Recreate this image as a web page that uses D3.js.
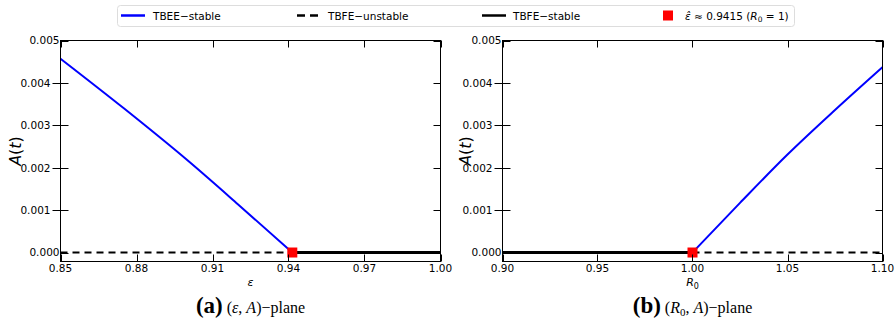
<!DOCTYPE html>
<html>
<head>
<meta charset="utf-8">
<script src="https://cdn.jsdelivr.net/npm/d3@7"></script>
<style>
  body { margin: 0; background: #fff; }
  svg { display: block; font-family: 'DejaVu Sans', sans-serif; }
</style>
</head>
<body>
<svg id="chart" width="896" height="320"></svg>
<script>
// data
const epsTicks = [0.85, 0.88, 0.91, 0.94, 0.97, 1.00]
const r0Ticks = [0.90, 0.95, 1.00, 1.05, 1.10]
const aTicks = [0, 0.001, 0.002, 0.003, 0.004, 0.005]

const epsCrit = 0.9415
const r0Crit = 1.0

// panel (a): A vs epsilon
const epsStableX = [0.85, 0.875, 0.90, 0.92, 0.9415]
const epsStableA = [0.00457, 0.00340, 0.00218, 0.00114, 0]
const epsUnstableX = [0.85, 0.9415]
const epsFreeStableX = [0.9415, 1.00]

// panel (b): A vs R0
const r0StableX = [1.0, 1.025, 1.05, 1.075, 1.10]
const r0StableA = [0, 0.00117, 0.00231, 0.00336, 0.00437]
const r0FreeStableX = [0.90, 1.0]
const r0UnstableX = [1.0, 1.10]

const svg = d3.select('#chart')

const panels = [
	{
		left: 60.5, right: 440.5, domain: [0.85, 1.00], ticks: epsTicks, fmt: d3.format('.2f'),
		stable: epsStableX.map((x, i) => [x, epsStableA[i]]),
		unstable: epsUnstableX.map(x => [x, 0]),
		freeStable: epsFreeStableX.map(x => [x, 0]),
		crit: epsCrit, xlabel: 'eps', letter: '(a)', caption: 'eps', yLabelX: 21
	},
	{
		left: 502.5, right: 882.5, domain: [0.90, 1.10], ticks: r0Ticks, fmt: d3.format('.2f'),
		stable: r0StableX.map((x, i) => [x, r0StableA[i]]),
		unstable: r0UnstableX.map(x => [x, 0]),
		freeStable: r0FreeStableX.map(x => [x, 0]),
		crit: r0Crit, xlabel: 'r0', letter: '(b)', caption: 'r0', yLabelX: 471
	}
]

const plotTop = 40.5
const plotBottom = 261.5

panels.forEach((p) => {
	const x = d3.scaleLinear().domain(p.domain).range([p.left, p.right])
	const y = d3.scaleLinear().domain([-0.000212, 0.005]).range([plotBottom, plotTop])
	const g = svg.append('g')
	const line = d3.line().x(d => x(d[0])).y(d => y(d[1])).curve(d3.curveMonotoneX)

	// data lines
	g.append('path').datum(p.unstable)
		.attr('d', line).attr('fill', 'none')
		.attr('stroke', '#000').attr('stroke-width', 2).attr('stroke-dasharray', '7,5')
	g.append('path').datum(p.freeStable)
		.attr('d', line).attr('fill', 'none')
		.attr('stroke', '#000').attr('stroke-width', 3)
	g.append('path').datum(p.stable)
		.attr('d', line).attr('fill', 'none')
		.attr('stroke', '#0000ff').attr('stroke-width', 2)
	g.append('rect')
		.attr('x', x(p.crit) - 5).attr('y', y(0) - 5)
		.attr('width', 10).attr('height', 10)
		.attr('fill', '#ff0000')

	// frame
	g.append('rect')
		.attr('x', p.left).attr('y', plotTop)
		.attr('width', p.right - p.left).attr('height', plotBottom - plotTop)
		.attr('fill', 'none').attr('stroke', '#000').attr('stroke-width', 1)

	// x ticks (inward, mirrored on top)
	p.ticks.forEach((t) => {
		const xx = Math.round(x(t)) + 0.5
		g.append('line').attr('x1', xx).attr('x2', xx).attr('y1', plotBottom).attr('y2', plotBottom - 7).attr('stroke', '#000')
		g.append('line').attr('x1', xx).attr('x2', xx).attr('y1', plotTop).attr('y2', plotTop + 7).attr('stroke', '#000')
		g.append('text')
			.attr('x', x(t)).attr('y', plotBottom + 10.5)
			.attr('text-anchor', 'middle')
			.attr('font-size', 10.5)
			.text(p.fmt(t))
	})

	// y ticks (in/out on left, inward on right)
	aTicks.forEach((t, i) => {
		const yy = Math.round(y(t)) + 0.5
		const edge = i === 0 || i === aTicks.length - 1
		g.append('line').attr('x1', p.left - (edge ? 0 : 8)).attr('x2', p.left + 8).attr('y1', yy).attr('y2', yy).attr('stroke', '#000')
		g.append('line').attr('x1', p.right).attr('x2', p.right - 7).attr('y1', yy).attr('y2', yy).attr('stroke', '#000')
		g.append('text')
			.attr('x', p.left - (edge ? 1 : 10)).attr('y', y(t) + 3.8)
			.attr('text-anchor', 'end')
			.attr('font-size', 10.5)
			.text(d3.format('.3f')(t))
	})

	// y label
	const yl = g.append('text')
		.attr('transform', `translate(${p.yLabelX},${(plotTop + plotBottom) / 2}) rotate(-90)`)
		.attr('text-anchor', 'middle')
		.attr('font-size', 16)
	yl.append('tspan').attr('font-style', 'italic').text('A')
	yl.append('tspan').text('(')
	yl.append('tspan').attr('font-style', 'italic').text('t')
	yl.append('tspan').text(')')

	// x label
	const xl = g.append('text')
		.attr('x', (p.left + p.right) / 2).attr('y', 285.5)
		.attr('text-anchor', 'middle')
		.attr('font-size', 11)
	if (p.xlabel === 'eps') {
		xl.append('tspan').attr('font-style', 'italic').text('ε')
	} else {
		xl.append('tspan').attr('font-style', 'italic').text('R')
		xl.append('tspan').attr('font-size', 8).attr('dy', 3).text('0')
	}

	// caption
	const cap = g.append('text')
		.attr('x', (p.left + p.right) / 2).attr('y', 313)
		.attr('text-anchor', 'middle')
		.attr('font-family', "'Liberation Serif', 'DejaVu Serif', serif")
	cap.append('tspan').attr('font-weight', 'bold').attr('font-size', 23).text(p.letter)
	if (p.caption === 'r0') {
		cap.append('tspan').attr('font-size', 16).text(' (')
		cap.append('tspan').attr('font-size', 16).attr('font-style', 'italic').text('R')
		cap.append('tspan').attr('font-size', 11).attr('dy', 3).text('0')
		cap.append('tspan').attr('font-size', 16).attr('dy', -3).text(', ')
		cap.append('tspan').attr('font-size', 16).attr('font-style', 'italic').text('A')
		cap.append('tspan').attr('font-size', 16).text(')−plane')
	} else {
		cap.append('tspan').attr('font-size', 16).text(' (')
		cap.append('tspan').attr('font-size', 16).attr('font-style', 'italic').text('ε')
		cap.append('tspan').attr('font-size', 16).text(', ')
		cap.append('tspan').attr('font-size', 16).attr('font-style', 'italic').text('A')
		cap.append('tspan').attr('font-size', 16).text(')−plane')
	}
})

// legend
const legend = svg.append('g')
legend.append('rect')
	.attr('x', 117.5).attr('y', 5.5).attr('width', 677).attr('height', 21).attr('rx', 3)
	.attr('fill', '#fff').attr('stroke', '#ddd')

const ly = 15.5
legend.append('line').attr('x1', 121).attr('x2', 145).attr('y1', ly).attr('y2', ly)
	.attr('stroke', '#0000ff').attr('stroke-width', 2.5)
legend.append('text').attr('x', 153).attr('y', ly + 4).attr('font-size', 10.5).text('TBEE−stable')

legend.append('line').attr('x1', 297).attr('x2', 319).attr('y1', ly).attr('y2', ly)
	.attr('stroke', '#000').attr('stroke-width', 2.5).attr('stroke-dasharray', '8,5')
legend.append('text').attr('x', 328).attr('y', ly + 4).attr('font-size', 10.5).text('TBFE−unstable')

legend.append('line').attr('x1', 482).attr('x2', 506).attr('y1', ly).attr('y2', ly)
	.attr('stroke', '#000').attr('stroke-width', 2.5)
legend.append('text').attr('x', 513).attr('y', ly + 4).attr('font-size', 10.5).text('TBFE−stable')

legend.append('rect').attr('x', 663).attr('y', ly - 5).attr('width', 10).attr('height', 10).attr('fill', '#ff0000')
const lt = legend.append('text').attr('x', 685).attr('y', ly + 4).attr('font-size', 10.5)
lt.append('tspan').attr('font-style', 'italic').text('ε̂')
lt.append('tspan').text(' ≈ 0.9415 (')
lt.append('tspan').attr('font-style', 'italic').text('R')
lt.append('tspan').attr('font-size', 7.5).attr('dy', 2.5).text('0')
lt.append('tspan').attr('dy', -2.5).text(' = 1)')
</script>
</body>
</html>
